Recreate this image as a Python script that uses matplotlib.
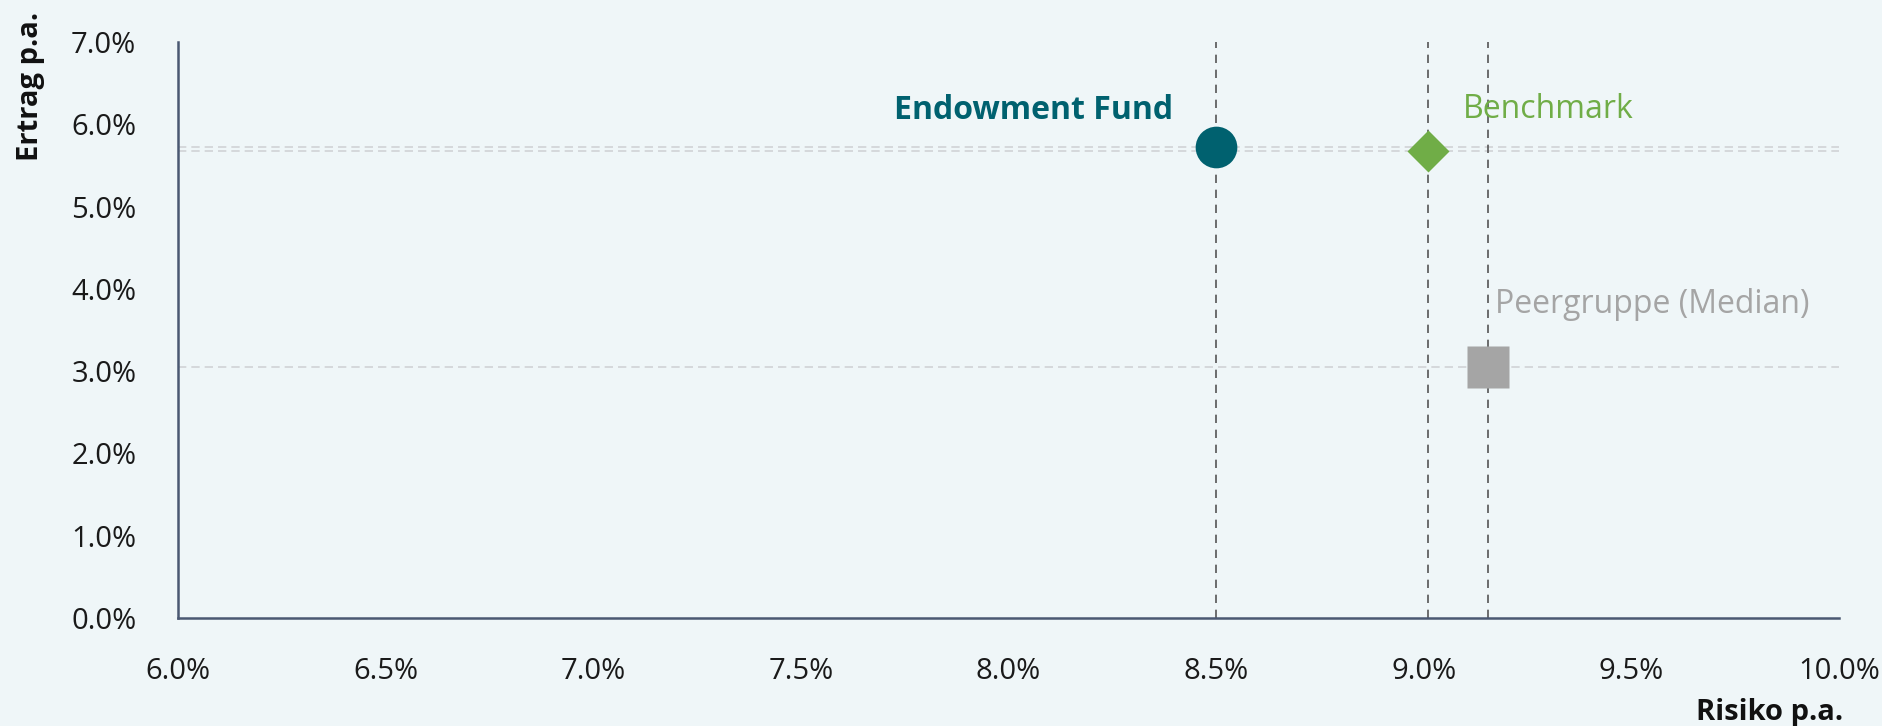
import matplotlib.pyplot as plt
from matplotlib.ticker import FuncFormatter

plt.rcParams['font.family'] = ['Open Sans', 'DejaVu Sans']

# Data (risk / return, in percent)
names = ["Endowment Fund", "Benchmark", "Peergruppe (Median)"]
risk = [8.50, 9.01, 9.155]
ertrag = [5.72, 5.67, 3.05]

colors = ["#00616F", "#70AD47", "#A5A5A5"]
markers = ["o", "D", "s"]
msizes = [30, 21.5, 30]
bold = [True, False, False]
# label offsets in pixels relative to the marker
offsets = [(-43, 28, "right"), (35, 33, "left"), (7, 54, "left")]

xticks = [6.0, 6.5, 7.0, 7.5, 8.0, 8.5, 9.0, 9.5, 10.0]
yticks = [0, 1, 2, 3, 4, 5, 6, 7]

bg = "#EFF6F8"
axis_col = "#4A5872"

fig = plt.figure(figsize=(18.83, 7.26), dpi=100, facecolor=bg)
ax = fig.add_axes([178 / 1883, 108 / 726, (1839 - 178) / 1883, (618 - 42) / 726])
ax.set_facecolor(bg)

ax.set_xlim(6, 10)
ax.set_ylim(0, 7)
ax.set_xticks(xticks)
ax.set_yticks(yticks)
ax.xaxis.set_major_formatter(FuncFormatter(lambda v, p: f"{v:.1f}%"))
ax.yaxis.set_major_formatter(FuncFormatter(lambda v, p: f"{v:.1f}%"))
ax.tick_params(axis="both", length=0, labelsize=21, colors="#1a1a1a")
ax.tick_params(axis="x", pad=28)
ax.tick_params(axis="y", pad=30)

for s in ["top", "right"]:
    ax.spines[s].set_visible(False)
for s in ["left", "bottom"]:
    ax.spines[s].set_color(axis_col)
    ax.spines[s].set_linewidth(1.8)

for i in range(len(names)):
    ax.axhline(ertrag[i], color="#D0D3D6", lw=1.2, ls=(0, (5, 3)), zorder=1)
    ax.axvline(risk[i], color="#555555", lw=1.2, ls=(0, (5, 4)), zorder=1)

for i in range(len(names)):
    ax.plot(risk[i], ertrag[i], marker=markers[i], ms=msizes[i], color=colors[i],
            mec="none", ls="none", zorder=3)
    dx, dy, ha = offsets[i]
    ax.annotate(names[i], (risk[i], ertrag[i]), xytext=(dx, dy), textcoords="offset pixels",
                ha=ha, va="baseline", fontsize=23,
                fontweight="bold" if bold[i] else "normal", color=colors[i])

fig.text(31 / 1883, 1 - 12 / 726, "Ertrag p.a.", rotation=90, ha="center", va="top",
         fontsize=21, fontweight="bold", color="#111111")
fig.text(1843 / 1883, 1 - 720 / 726, "Risiko p.a.", ha="right", va="baseline",
         fontsize=21, fontweight="bold", color="#111111")

fig.savefig("out.png", dpi=100, facecolor=bg)
